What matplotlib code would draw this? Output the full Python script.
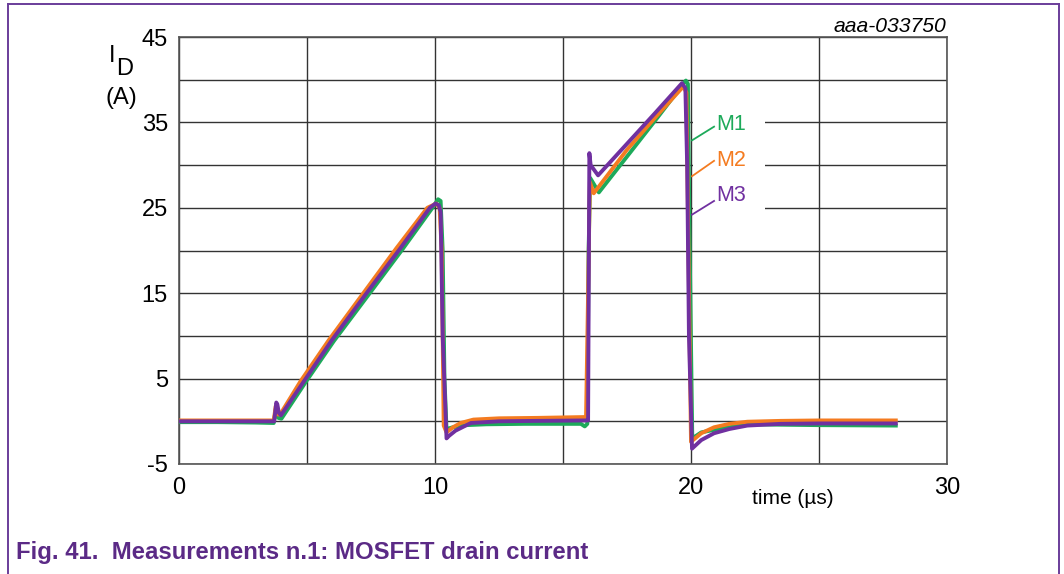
import numpy as np
import matplotlib
matplotlib.use("Agg")
import matplotlib.pyplot as plt
from matplotlib.lines import Line2D
from matplotlib.patches import Rectangle

plt.rcParams['font.family'] = ['Liberation Sans', 'DejaVu Sans']

# ---- measured drain current, time in µs, current in A ----
m1_t = [0, 1.5, 3.0, 3.7, 3.8, 3.88, 4.0, 4.95, 6.05, 7.4, 8.72, 9.9, 10.12, 10.22,
        10.3, 10.37, 10.45, 10.7, 11.2, 12.0, 13.5, 15.7, 15.85, 15.95, 16.0, 16.06,
        16.4, 17.5, 18.7, 19.8, 19.88, 19.95, 20.05, 20.4, 20.9, 21.5, 22.2, 23.5,
        25.0, 28.0]
m1_i = [-0.1, -0.1, -0.15, -0.2, 1.8, 0.4, 0.3, 4.6, 9.4, 14.8, 20.1, 25, 26.0, 25.8,
        20, 5, -0.9, -0.7, -0.45, -0.35, -0.3, -0.3, -0.6, -0.3, 20, 28.5,
        26.8, 31.0, 35.6, 39.9, 39.5, 20, -2.0, -1.3, -1.0, -0.7, -0.35, -0.4,
        -0.45, -0.5]

m2_t = [0, 3.7, 3.78, 3.86, 3.95, 4.75, 5.85, 7.2, 8.5, 9.7, 10.05, 10.18, 10.26,
        10.34, 10.45, 10.7, 11.0, 11.5, 12.5, 14.0, 15.9, 15.98, 16.05, 16.2, 17.5,
        18.7, 19.7, 19.82, 19.9, 20.0, 20.4, 20.9, 21.5, 22.2, 23.5, 25.0, 28.0]
m2_i = [0.1, 0.1, 1.8, 0.8, 0.8, 4.7, 9.5, 15, 20.3, 25, 25.5, 25.0, 20,
        -0.5, -1.3, -0.7, -0.2, 0.2, 0.35, 0.4, 0.5, 15, 28, 26.7, 31.8,
        35.9, 39.2, 38.5, 20, -2.4, -1.4, -0.7, -0.3, -0.05, 0.05, 0.1, 0.1]

m3_t = [0, 3.72, 3.8, 3.84, 3.9, 3.98, 4.86, 5.97, 7.3, 8.63, 9.8, 10.02, 10.15,
        10.22, 10.3, 10.45, 10.55, 10.8, 11.4, 12.5, 14.0, 15.9, 15.98, 16.03,
        16.08, 16.37, 17.5, 18.6, 19.65, 19.78, 19.85, 19.92, 20.04, 20.4, 20.9,
        21.5, 22.2, 23.5, 25.0, 28.0]
m3_i = [0.0, 0.0, 2.2, 2.0, 1.0, 0.7, 4.6, 9.5, 14.9, 20.2, 25, 25.5, 25.3,
        24.5, 10, -2.0, -1.7, -1.1, -0.2, 0.0, 0.05, 0.1, 0.1, 31.4,
        30.0, 28.8, 32.5, 36.1, 39.6, 39.0, 30, 10, -3.2, -2.2, -1.4,
        -0.9, -0.5, -0.3, -0.25, -0.25]

series_names = ['M1', 'M2', 'M3']
series_colors = ['#1DAA5A', '#F47B20', '#7030A0']

x_major = [0, 10, 20, 30]
x_minor = [5, 15, 25]
y_major = [-5, 5, 15, 25, 35, 45]
y_minor = [0, 10, 20, 30, 40]

W, H = 1064, 574
fig = plt.figure(figsize=(W / 100, H / 100), dpi=100)
fig.patch.set_facecolor('white')

ax = fig.add_axes([179 / W, 1 - 464 / H, (947 - 179) / W, (464 - 37) / H])
ax.set_xlim(0, 30)
ax.set_ylim(-5, 45)
ax.set_xticks(x_major)
ax.set_xticks(x_minor, minor=True)
ax.set_yticks(y_major)
ax.set_yticks(y_minor, minor=True)
ax.set_xticklabels([str(v) for v in x_major])
ax.set_yticklabels([str(v) for v in y_major])
ax.tick_params(which='both', length=0)
ax.tick_params(axis='y', pad=8, labelsize=17)
ax.tick_params(axis='x', pad=9, labelsize=17)
ax.grid(True, which='both', color='#333333', linewidth=1.0)
ax.set_axisbelow(True)
for side, sp in ax.spines.items():
    sp.set_color('#555555')
    sp.set_linewidth(1.2)

# traces
for t, i, c in zip([m1_t, m2_t, m3_t], [m1_i, m2_i, m3_i], series_colors):
    ax.plot(t, i, color=c, linewidth=2.8, solid_joinstyle='round', zorder=3)

# label block with leader lines
ax.add_patch(Rectangle((20.08, 24.2), 2.8, 12.8, facecolor='white',
                       edgecolor='none', zorder=2))
leader_start = [(20.04, 32.9), (20.04, 28.7), (20.04, 24.2)]
leader_end = [(20.9, 34.5), (20.9, 30.5), (20.9, 25.8)]
text_y = [34.8, 30.5, 26.4]
for name, c, s, e, ty in zip(series_names, series_colors, leader_start, leader_end, text_y):
    ax.plot([s[0], e[0]], [s[1], e[1]], color=c, linewidth=1.3, zorder=4)
    ax.text(20.98, ty, name, color=c, fontsize=15.5, ha='left', va='center', zorder=5)

# axis titles
fig.text(112 / W, 1 - 56 / H, 'I', fontsize=17, ha='center', va='center')
fig.text(125 / W, 1 - 69 / H, 'D', fontsize=17, ha='center', va='center')
fig.text(121 / W, 1 - 98 / H, '(A)', fontsize=17, ha='center', va='center')
fig.text(793 / W, 1 - 499 / H, 'time (µs)', fontsize=15, ha='center', va='center')
fig.text(946 / W, 1 - 26 / H, 'aaa-033750', fontsize=15.2, style='italic',
         ha='right', va='center')

# caption
fig.text(16 / W, 1 - 552 / H, 'Fig. 41.  Measurements n.1: MOSFET drain current',
         fontsize=17.2, fontweight='bold', color='#5B2A86', ha='left', va='center')

# outer frame
frame_c = '#6A3D9A'
fig.add_artist(Line2D([8 / W, 1059 / W], [1 - 4 / H, 1 - 4 / H], transform=fig.transFigure,
                      color=frame_c, linewidth=1.4))
fig.add_artist(Line2D([8 / W, 8 / W], [1 - 4 / H, 0], transform=fig.transFigure,
                      color=frame_c, linewidth=1.4))
fig.add_artist(Line2D([1059 / W, 1059 / W], [1 - 4 / H, 0], transform=fig.transFigure,
                      color=frame_c, linewidth=1.4))

fig.savefig('out.png', dpi=100)
